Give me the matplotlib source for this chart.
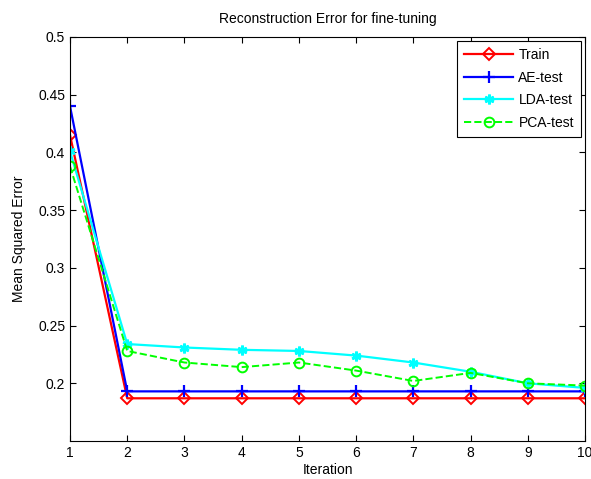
import matplotlib
matplotlib.use("Agg")
import matplotlib.pyplot as plt

plt.rcParams["font.family"] = ["Liberation Sans", "DejaVu Sans"]

iterations = [1, 2, 3, 4, 5, 6, 7, 8, 9, 10]
train = [0.415, 0.187, 0.187, 0.187, 0.187, 0.187, 0.187, 0.187, 0.187, 0.187]
ae_test = [0.440, 0.193, 0.193, 0.193, 0.193, 0.193, 0.193, 0.193, 0.193, 0.193]
lda_test = [0.401, 0.234, 0.231, 0.229, 0.228, 0.224, 0.218, 0.210, 0.200, 0.196]
pca_test = [0.388, 0.228, 0.218, 0.214, 0.218, 0.211, 0.202, 0.209, 0.200, 0.198]

fig = plt.figure(figsize=(5.91, 4.79), dpi=100)
ax = fig.add_axes([70 / 591, 38 / 479, 515 / 591, 404 / 479])

ax.plot(iterations, train, color="red", lw=1.6, marker="D", ms=6.5,
        mfc="none", mew=1.4, label="Train")
ax.plot(iterations, ae_test, color="blue", lw=1.6, marker="+", ms=9,
        mew=1.6, label="AE-test")
ax.plot(iterations, lda_test, color="cyan", lw=1.6, marker=(6, 2, 0), ms=7,
        mew=2, label="LDA-test")
ax.plot(iterations, pca_test, color="#00ff00", lw=1.4, ls="--", marker="o",
        ms=7, mfc="none", mew=1.4, label="PCA-test")

ax.set_xlim(1, 10)
ax.set_ylim(0.15, 0.5)
ax.set_xticks(iterations)
ax.set_xticklabels([str(i) for i in iterations])
ax.set_yticks([0.2, 0.25, 0.3, 0.35, 0.4, 0.45, 0.5])
ax.set_yticklabels(["0.2", "0.25", "0.3", "0.35", "0.4", "0.45", "0.5"])
ax.tick_params(direction="in", top=True, right=True, labelsize=10, length=4)

ax.set_title("Reconstruction Error for fine-tuning", fontsize=10, pad=10)
ax.set_xlabel("Iteration", fontsize=10, labelpad=2)
ax.set_ylabel("Mean Squared Error", fontsize=10, labelpad=9)

leg = ax.legend(loc="upper right", fontsize=10, fancybox=False,
                edgecolor="black", framealpha=1, borderaxespad=0.3,
                handlelength=3.5, handletextpad=0.4, labelspacing=0.62,
                borderpad=0.5)
leg.get_frame().set_linewidth(0.8)

fig.savefig("out.png", dpi=100)
